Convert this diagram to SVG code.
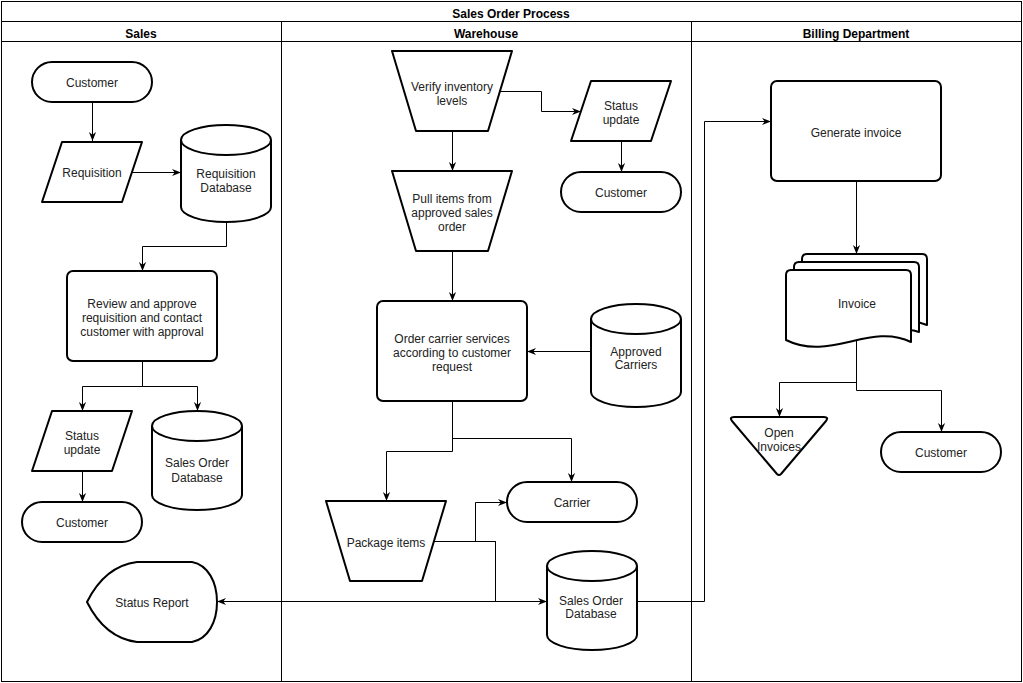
<svg xmlns="http://www.w3.org/2000/svg" width="1023" height="683" viewBox="0 0 1023 683">
<style>
.lane{fill:none;stroke:#000;stroke-width:1}
.shape{fill:#fff;stroke:#000;stroke-width:2;stroke-linejoin:round}
.edge{fill:none;stroke:#000;stroke-width:1}
text{font-family:"Liberation Sans",Arial,sans-serif;font-size:12px;fill:#222;text-anchor:middle}
.hdr{font-weight:bold;fill:#000}
</style>
<defs>
<marker id="arr" viewBox="0 0 10 10" refX="10" refY="5" markerWidth="9" markerHeight="9" markerUnits="userSpaceOnUse" orient="auto">
<path d="M0,1 L10,5 L0,9 L3,5 Z" fill="#000"/>
</marker>
</defs>
<rect width="1023" height="683" fill="#fff"/>
<g id="pool">
<rect class="lane" x="1.5" y="1.5" width="1020" height="680"/>
<line class="lane" x1="1.5" y1="21.5" x2="1021.5" y2="21.5"/>
<line class="lane" x1="1.5" y1="41.5" x2="1021.5" y2="41.5"/>
<line class="lane" x1="281.5" y1="21.5" x2="281.5" y2="681.5"/>
<line class="lane" x1="691.5" y1="21.5" x2="691.5" y2="681.5"/>
<text class="hdr" x="511" y="18">Sales Order Process</text>
<text class="hdr" x="141" y="38">Sales</text>
<text class="hdr" x="486" y="38">Warehouse</text>
<text class="hdr" x="856" y="38">Billing Department</text>
</g>
<g id="connectors">
<path class="edge" d="M92.5,102 V141" marker-end="url(#arr)"/>
<path class="edge" d="M132,172.5 H181" marker-end="url(#arr)"/>
<path class="edge" d="M226.5,222 V246.5 H142.5 V271" marker-end="url(#arr)"/>
<path class="edge" d="M142.5,361 V386.5 H82.5 V411" marker-end="url(#arr)"/>
<path class="edge" d="M142.5,361 V386.5 H197.5 V411" marker-end="url(#arr)"/>
<path class="edge" d="M82.5,471 V502" marker-end="url(#arr)"/>
<path class="edge" d="M500,91.5 H541.5 V111.5 H581" marker-end="url(#arr)"/>
<path class="edge" d="M621.5,141 V172" marker-end="url(#arr)"/>
<path class="edge" d="M452.5,131 V171" marker-end="url(#arr)"/>
<path class="edge" d="M452.5,251 V301" marker-end="url(#arr)"/>
<path class="edge" d="M591,351.5 H527" marker-end="url(#arr)"/>
<path class="edge" d="M452.5,401 V438.5 H571.5 V482" marker-end="url(#arr)"/>
<path class="edge" d="M452.5,401 V451.5 H386.5 V501" marker-end="url(#arr)"/>
<path class="edge" d="M434,541.5 H475.5 V502.5 H507" marker-end="url(#arr)"/>
<path class="edge" d="M434,541.5 H495.5 V601.5 H547" marker-end="url(#arr)"/>
<path class="edge" d="M434,541.5 H495.5 V601.5 H217" marker-end="url(#arr)"/>
<path class="edge" d="M637,601.5 H704.5 V121.5 H771" marker-end="url(#arr)"/>
<path class="edge" d="M856.5,181 V254" marker-end="url(#arr)"/>
<path class="edge" d="M856.5,337 V382.5 H779.5 V417" marker-end="url(#arr)"/>
<path class="edge" d="M856.5,337 V390.5 H941.5 V432" marker-end="url(#arr)"/>
</g>
<g id="sales-customer">
<rect class="shape" x="32" y="62" width="120" height="40" rx="20"/>
<text x="92" y="87">Customer</text>
</g>
<g id="requisition">
<path class="shape" d="M62,142 H142 L122,202 H42 Z"/>
<text x="92" y="177">Requisition</text>
</g>
<g id="requisition-db">
<path class="shape" d="M181,140 A45,15 0 0 1 271,140 V207 A45,15 0 0 1 181,207 Z"/>
<path class="shape" fill="none" d="M181,140 A45,15 0 0 0 271,140"/>
<text x="226" y="178">Requisition</text>
<text x="226" y="192">Database</text>
</g>
<g id="review">
<rect class="shape" x="67" y="271" width="150" height="90" rx="6"/>
<text x="142" y="308">Review and approve</text>
<text x="142" y="322">requisition and contact</text>
<text x="142" y="336">customer with approval</text>
</g>
<g id="sales-status-update">
<path class="shape" d="M52,411 H132 L112,471 H32 Z"/>
<text x="82" y="440">Status</text>
<text x="82" y="454">update</text>
</g>
<g id="sales-order-db">
<path class="shape" d="M152,426 A45,15 0 0 1 242,426 V495 A45,15 0 0 1 152,495 Z"/>
<path class="shape" fill="none" d="M152,426 A45,15 0 0 0 242,426"/>
<text x="197" y="467">Sales Order</text>
<text x="197" y="482">Database</text>
</g>
<g id="sales-customer-2">
<rect class="shape" x="22" y="502" width="120" height="40" rx="20"/>
<text x="82" y="527">Customer</text>
</g>
<g id="status-report">
<path class="shape" d="M87,602 Q105,566 137,562 H192 C208,565 217,582 217,602 C217,622 208,639 192,642 H137 Q105,638 87,602 Z"/>
<text x="152" y="607">Status Report</text>
</g>
<g id="verify-inventory">
<path class="shape" d="M392,51 H512 L488,131 H416 Z"/>
<text x="452" y="91">Verify inventory</text>
<text x="452" y="105">levels</text>
</g>
<g id="wh-status-update">
<path class="shape" d="M591,81 H671 L651,141 H571 Z"/>
<text x="621" y="110">Status</text>
<text x="621" y="124">update</text>
</g>
<g id="wh-customer">
<rect class="shape" x="561" y="172" width="120" height="40" rx="20"/>
<text x="621" y="197">Customer</text>
</g>
<g id="pull-items">
<path class="shape" d="M392,171 H512 L488,251 H416 Z"/>
<text x="452" y="203">Pull items from</text>
<text x="452" y="217">approved sales</text>
<text x="452" y="231">order</text>
</g>
<g id="order-carrier">
<rect class="shape" x="377" y="301" width="150" height="100" rx="6"/>
<text x="452" y="343">Order carrier services</text>
<text x="452" y="357">according to customer</text>
<text x="452" y="371">request</text>
</g>
<g id="approved-carriers">
<path class="shape" d="M591,319 A45,15 0 0 1 681,319 V392 A45,15 0 0 1 591,392 Z"/>
<path class="shape" fill="none" d="M591,319 A45,15 0 0 0 681,319"/>
<text x="636" y="356">Approved</text>
<text x="636" y="369">Carriers</text>
</g>
<g id="carrier">
<rect class="shape" x="507" y="482" width="130" height="40" rx="20"/>
<text x="572" y="507">Carrier</text>
</g>
<g id="package-items">
<path class="shape" d="M326,501 H446 L422,581 H350 Z"/>
<text x="386" y="547">Package items</text>
</g>
<g id="wh-sales-order-db">
<path class="shape" d="M547,566 A45,15 0 0 1 637,566 V635 A45,15 0 0 1 547,635 Z"/>
<path class="shape" fill="none" d="M547,566 A45,15 0 0 0 637,566"/>
<text x="591" y="605">Sales Order</text>
<text x="591" y="618">Database</text>
</g>
<g id="generate-invoice">
<rect class="shape" x="771" y="81" width="170" height="100" rx="6"/>
<text x="856" y="137">Generate invoice</text>
</g>
<g id="invoice">
<path class="shape" d="M802,324 V259 Q802,254 807,254 H922 Q927,254 927,259 V325 Q920,322 913,322"/>
<path class="shape" d="M794,332 V267 Q794,262 799,262 H914 Q919,262 919,267 V332 Q914,330 908,330"/>
<path class="shape" d="M786,340 V275 Q786,270 791,270 H906 Q911,270 911,275 V342 C870,322 830,362 786,340 Z"/>
<text x="857" y="308">Invoice</text>
</g>
<g id="open-invoices">
<path class="shape" d="M734,417 H824 Q829,417 826,421 L781,474 Q779,476 777,474 L732,421 Q729,417 734,417 Z"/>
<text x="779" y="437">Open</text>
<text x="779" y="451">Invoices</text>
</g>
<g id="billing-customer">
<rect class="shape" x="881" y="432" width="120" height="40" rx="20"/>
<text x="941" y="457">Customer</text>
</g>
</svg>
